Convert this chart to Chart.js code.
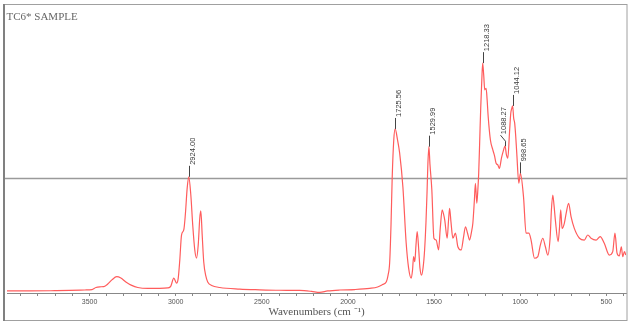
<!DOCTYPE html>
<html><head><meta charset="utf-8">
<script src="https://cdn.jsdelivr.net/npm/chart.js@4/dist/chart.umd.min.js"></script>
<style>html,body{margin:0;padding:0;background:#fff}#wrap{width:632px;height:327px;position:relative}</style>
</head><body><div id="wrap"><canvas id="c" width="632" height="327"></canvas></div>
<script>
const chartTitle = 'TC6* SAMPLE';
const axisTitle = 'Wavenumbers (cm \u207B\u00B9)';
const wavenumbers = [3979,3846,3701,3614,3527,3486,3463,3440,3417,3394,3370,3342,3318,3289,3255,3220,3162,3092,3046,3028,3011,2995,2985,2976,2966,2953,2944,2933,2924,2912,2901,2889,2879,2869,2860,2854,2846,2837,2825,2814,2791,2744,2628,2512,2396,2280,2211,2164,2118,2048,1961,1874,1828,1799,1777,1767,1758,1750,1743,1734,1726,1712,1700,1681,1662,1648,1633,1625,1619,1612,1605,1598,1589,1582,1573,1564,1555,1547,1541,1536,1530,1524,1513,1501,1488,1474,1464,1453,1445,1438,1424,1416,1410,1402,1391,1376,1362,1343,1329,1318,1306,1294,1283,1275,1266,1260,1252,1246,1241,1235,1229,1223,1218,1212,1206,1198,1192,1186,1173,1159,1149,1140,1130,1121,1109,1101,1088,1080,1072,1062,1055,1050,1044,1038,1032,1026,1020,1008,999,981,966,950,937,917,898,883,869,854,840,826,819,811,804,796,780,772,765,757,744,732,719,705,686,656,628,608,589,560,536,512,483,463,450,438,425,413,405,395,387];
const absorbance = [0.009,0.009,0.010,0.011,0.013,0.015,0.024,0.027,0.028,0.039,0.057,0.071,0.065,0.048,0.033,0.024,0.020,0.020,0.022,0.030,0.065,0.043,0.065,0.143,0.252,0.274,0.339,0.457,0.505,0.426,0.296,0.187,0.152,0.209,0.326,0.357,0.252,0.135,0.074,0.048,0.033,0.024,0.017,0.014,0.012,0.011,0.007,0.003,0.009,0.013,0.015,0.020,0.026,0.037,0.049,0.078,0.130,0.296,0.504,0.665,0.713,0.665,0.609,0.461,0.217,0.109,0.064,0.100,0.158,0.136,0.209,0.267,0.187,0.109,0.078,0.109,0.187,0.309,0.435,0.560,0.636,0.560,0.448,0.238,0.230,0.187,0.283,0.361,0.343,0.317,0.238,0.317,0.368,0.309,0.238,0.260,0.201,0.187,0.243,0.288,0.261,0.230,0.265,0.303,0.404,0.477,0.390,0.448,0.520,0.665,0.810,0.926,0.999,0.948,0.883,0.890,0.839,0.767,0.665,0.622,0.596,0.564,0.557,0.542,0.586,0.610,0.638,0.600,0.586,0.700,0.780,0.800,0.813,0.760,0.737,0.680,0.607,0.477,0.520,0.419,0.260,0.260,0.230,0.151,0.158,0.209,0.238,0.201,0.165,0.245,0.361,0.426,0.383,0.317,0.223,0.283,0.361,0.281,0.303,0.352,0.390,0.332,0.281,0.238,0.230,0.252,0.238,0.230,0.245,0.216,0.165,0.180,0.260,0.173,0.161,0.201,0.158,0.180,0.165];
const tickLabels = [3500,3000,2500,2000,1500,1000,500];
const peakLabels = ['2924.00','1725.56','1529.99','1218.33','1088.27','1044.12','998.65'];
const threshold = 0.5;

const points = wavenumbers.map((w,i)=>({x:w,y:absorbance[i]}));

const decor = {
  id:'decor',
  beforeDraw(chart){
    const c=chart.ctx; c.save(); c.fillStyle='#fff'; c.fillRect(0,0,chart.width,chart.height); c.restore();
  },
  beforeDatasetsDraw(chart){
    const c=chart.ctx, ys=chart.scales.y;
    const y=Math.round(ys.getPixelForValue(threshold))+0.5;
    c.save(); c.strokeStyle='#9a9a9a'; c.lineWidth=1.3;
    c.beginPath(); c.moveTo(5,y); c.lineTo(627,y); c.stroke(); c.restore();
  },
  afterDraw(chart){
    const c=chart.ctx, xs=chart.scales.x, ys=chart.scales.y;
    c.save();
    c.strokeStyle='#a0a0a0'; c.lineWidth=1;
    c.strokeRect(4.5,4.5,622.5,316);
    c.strokeStyle='#808080'; c.lineWidth=2;
    c.beginPath(); c.moveTo(4,4); c.lineTo(4,321); c.stroke();
    c.fillStyle='#666'; c.font='11px "Liberation Serif"'; c.textBaseline='alphabetic'; c.textAlign='left';
    c.fillText(chartTitle,6.5,19.5);
    c.font='7.5px "Liberation Sans"'; c.fillStyle='#3a3a3a'; c.strokeStyle='#444'; c.lineWidth=1;
    peakLabels.forEach(lbl=>{
      const w=parseFloat(lbl);
      let best=0;
      wavenumbers.forEach((x,i)=>{ if(Math.abs(x-w)<=8 && absorbance[i]>best) best=absorbance[i]; });
      const px=Math.round(xs.getPixelForValue(w))+0.5;
      const py=ys.getPixelForValue(best);
      let tx=px;
      c.beginPath();
      if(lbl==='1088.27'){
        c.moveTo(px,py); c.lineTo(px,py-5); c.lineTo(px-5,py-11); tx=px-5;
      } else { c.moveTo(px,py); c.lineTo(px,py-11); }
      c.stroke();
      c.save(); c.translate(tx+3.5,py-12); c.rotate(-Math.PI/2);
      c.textAlign='left'; c.textBaseline='middle'; c.fillText(lbl,0,0); c.restore();
    });
    c.restore();
  }
};

new Chart(document.getElementById('c'),{
  type:'line',
  data:{datasets:[{data:points,borderColor:'#ff5c5c',borderWidth:1.2,pointRadius:0,fill:false,cubicInterpolationMode:'monotone'}]},
  options:{
    responsive:false, devicePixelRatio:1, animation:false,
    layout:{padding:{top:10,left:7,right:6,bottom:6}},
    plugins:{legend:{display:false},tooltip:{enabled:false}},
    scales:{
      x:{type:'linear',reverse:true,min:386,max:3979,
        afterBuildTicks(s){ const t=[]; for(let v=400;v<=3900;v+=100) t.push({value:v}); s.ticks=t; },
        afterFit(s){ s.height=28; },
        ticks:{autoSkip:false,maxRotation:0,padding:2,color:'#555',font:{family:'Liberation Sans',size:7},
          callback:(v)=> tickLabels.includes(v)?String(v):''},
        grid:{display:true,drawOnChartArea:false,drawTicks:true,tickLength:3,color:'#888'},
        border:{display:true,color:'#888',width:1},
        title:{display:true,text:axisTitle,color:'#555',font:{family:'Liberation Serif',size:11},padding:{top:0,bottom:2}}
      },
      y:{display:false,min:0,max:1.23}
    }
  },
  plugins:[decor]
});
</script></body></html>
